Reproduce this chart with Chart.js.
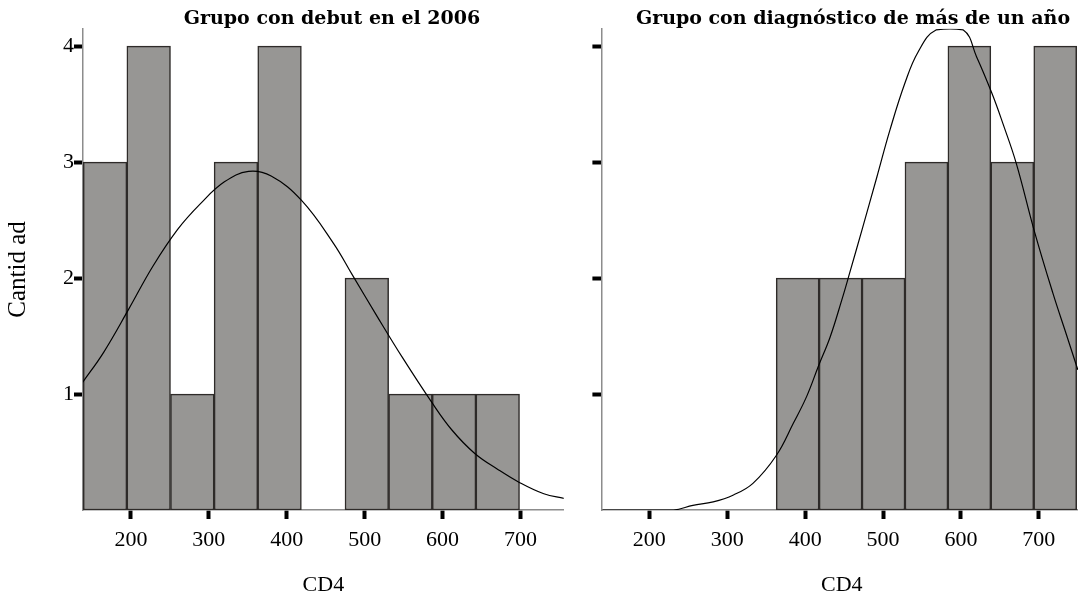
<!DOCTYPE html>
<html>
<head>
<meta charset="utf-8">
<script src="https://cdn.jsdelivr.net/npm/chart.js"></script>
<style>
  html, body { margin: 0; padding: 0; overflow: hidden; background: #fff; width: 1078px; height: 598px; }
  .box { position: absolute; top: 0; height: 598px; }
  #b1 { left: 0; width: 664px; }
  #b2 { left: 580px; width: 546px; }
</style>
</head>
<body>
<div class="box" id="b1"><canvas id="c1"></canvas></div>
<div class="box" id="b2"><canvas id="c2"></canvas></div>
<script>
// histogram bins (centres of CD4 classes) and counts
var leftBins = [166.8, 222.8, 278.8, 334.8, 390.8, 446.8, 502.8, 558.8, 614.8, 670.8];
var leftCounts = [3, 4, 1, 3, 4, 0, 2, 1, 1, 1];
var rightBins = [390.4, 445.5, 500.6, 555.7, 610.8, 665.9, 721.0];
var rightCounts = [2, 2, 2, 3, 4, 3, 4];

// normal curve
var leftCurveX = [138, 165, 197, 228, 260, 289, 320, 351, 380, 419, 460, 484, 516, 548, 586, 612, 641, 671, 698, 730, 756];
var leftCurveY = [1.10, 1.36, 1.73, 2.10, 2.42, 2.64, 2.83, 2.92, 2.88, 2.67, 2.30, 2.03, 1.67, 1.32, 0.93, 0.69, 0.49, 0.35, 0.24, 0.14, 0.10];
var rightCurveX = [140, 231, 256, 282, 308, 333, 363, 385, 402, 417, 432, 447, 457, 474, 492, 509, 528, 545, 568, 603, 620, 640, 654, 671, 694, 718, 735, 750];
var rightCurveY = [0, 0, 0.04, 0.07, 0.13, 0.23, 0.47, 0.75, 0.98, 1.24, 1.49, 1.81, 2.04, 2.44, 2.87, 3.28, 3.68, 3.95, 4.14, 4.14, 3.91, 3.59, 3.33, 2.99, 2.41, 1.87, 1.52, 1.21];

var xTicks = [200, 300, 400, 500, 600, 700];
var yTicks = [1, 2, 3, 4];
var titles = ["Grupo con debut en el 2006", "Grupo con diagnóstico de más de un año"];

Chart.defaults.font.family = "'Liberation Serif', serif";
Chart.defaults.color = "#000";

function pts(xs, ys) {
  return xs.map(function (x, i) { return { x: x, y: ys[i] === 0 ? null : ys[i] }; });
}
function curve(xs, ys) {
  return xs.map(function (x, i) { return { x: x, y: ys[i] }; });
}

function makeChart(id, bins, counts, cx, cy, title, showY, yWidth, rightPad) {
  new Chart(id, {
    data: {
      datasets: [{
        type: "line",
        order: 0,
        data: curve(cx, cy),
        borderColor: "#000",
        borderWidth: 1.2,
        pointRadius: 0,
        fill: false,
        tension: 0.4,
        yAxisID: "y"
      }, {
        type: "bar",
        order: 1,
        data: pts(bins, counts),
        backgroundColor: "#979694",
        borderColor: "#2e2b29",
        borderWidth: 1.5,
        borderSkipped: false,
        barPercentage: 1,
        categoryPercentage: 1,
        yAxisID: "y"
      }]
    },
    options: {
      responsive: true,
      maintainAspectRatio: false,
      animation: false,
      layout: { padding: 0 },
      plugins: {
        legend: { display: false },
        tooltip: { enabled: false },
        title: {
          display: true,
          text: title,
          color: "#000",
          font: { family: "'DejaVu Serif', serif", weight: "bold", size: 19 },
          padding: { top: 8, bottom: -2 }
        }
      },
      scales: {
        x: {
          type: "linear",
          min: 138.5, max: 755.5,
          offset: false,
          afterBuildTicks: function (s) { s.ticks = xTicks.map(function (v) { return { value: v }; }); },
          afterFit: function (s) { s.height = 88; },
          grid: { display: true, offset: false, drawOnChartArea: false, drawTicks: true, tickLength: 9, tickWidth: 4, tickColor: "#000" },
          border: { color: "#8c8c8c", width: 1.5 },
          ticks: { font: { size: 22 }, padding: 8, maxRotation: 0 },
          title: { display: true, text: "CD4", font: { size: 22 }, padding: { top: 0, bottom: 0 } }
        },
        y: {
          type: "linear",
          min: 0, max: 4.15,
          afterBuildTicks: function (s) { s.ticks = yTicks.map(function (v) { return { value: v }; }); },
          afterFit: function (s) { s.width = yWidth; },
          grid: { display: true, drawOnChartArea: false, drawTicks: true, tickLength: 9, tickWidth: 4, tickColor: "#000" },
          border: { color: "#8c8c8c", width: 1.5 },
          ticks: { display: showY, font: { size: 22 }, padding: 0 },
          title: { display: showY, text: "Cantid ad", font: { size: 25 }, padding: { top: 3, bottom: 0 } }
        },
        pad: {
          axis: "y",
          position: "right",
          display: true,
          afterFit: function (s) { s.width = rightPad; },
          grid: { display: false },
          border: { display: false },
          ticks: { display: false }
        }
      }
    }
  });
}

makeChart("c1", leftBins, leftCounts, leftCurveX, leftCurveY, titles[0], true, 83, 100.3);
makeChart("c2", rightBins, rightCounts, rightCurveX, rightCurveY, titles[1], false, 21.4, 43.9);
</script>
</body>
</html>
